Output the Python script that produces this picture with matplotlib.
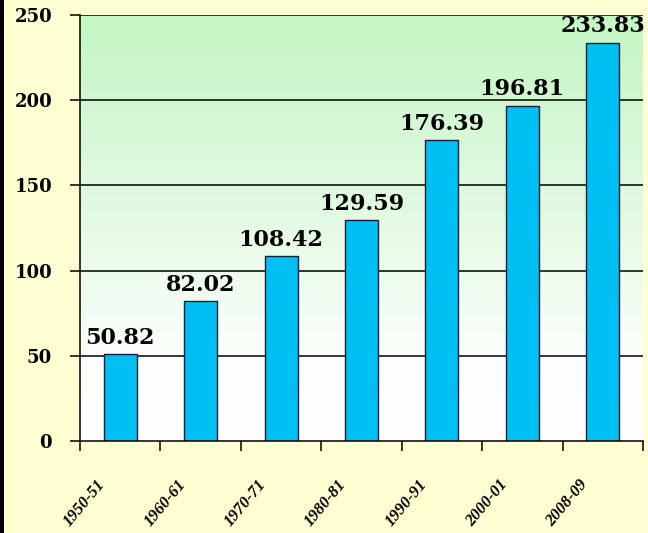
import numpy as np
import matplotlib
matplotlib.use("Agg")
import matplotlib.pyplot as plt
from matplotlib.colors import LinearSegmentedColormap
from matplotlib.patches import Rectangle

# Chart data
years = ["1950-51", "1960-61", "1970-71", "1980-81", "1990-91", "2000-01", "2008-09"]
values = [50.82, 82.02, 108.42, 129.59, 176.39, 196.81, 233.83]
y_ticks = [0, 50, 100, 150, 200, 250]

fig = plt.figure(figsize=(6.48, 5.33), dpi=100)
fig.patch.set_facecolor("#FFFFD2")
# dark strip along the left edge
fig.patches.append(Rectangle((0, 0), 4 / 648, 1, transform=fig.transFigure,
                             facecolor="black", edgecolor="none", zorder=0))

ax = fig.add_axes([80 / 648, 92 / 533, 563 / 648, 426 / 533])
ax.set_xlim(-0.5, len(years) - 0.5)
ax.set_ylim(0, 250)

# plot area background: white at the bottom fading to pale green at the top
grad_cmap = LinearSegmentedColormap.from_list(
    "bg", [(0, "#FFFFFF"), (0.2, "#FBFEFB"), (0.55, "#E2FAE2"), (1, "#C4F6C4")])
grad = np.linspace(0, 1, 256).reshape(-1, 1)
ax.imshow(grad, cmap=grad_cmap, origin="lower", aspect="auto",
          extent=[-0.5, len(years) - 0.5, 0, 250], zorder=0)

x = np.arange(len(years))
ax.bar(x, values, width=0.41, color="#00BFF3", edgecolor="#102030",
       linewidth=1.0, zorder=3)

for xi, v in zip(x, values):
    ax.annotate(f"{v:.2f}", (xi, v), xytext=(0, 4), textcoords="offset points",
                ha="center", va="bottom", fontsize=16, fontweight="bold",
                family="DejaVu Serif", color="black", zorder=4,
                annotation_clip=False)

# horizontal grid lines
for t in y_ticks[1:]:
    ax.axhline(t, color="black", linewidth=1.1, zorder=2)

ax.set_yticks(y_ticks)
ax.set_yticklabels([str(t) for t in y_ticks], fontsize=13, fontweight="bold",
                   family="DejaVu Serif")
ax.tick_params(axis="y", length=7, width=1.1, pad=13, direction="out")

# category boundary ticks on the x axis
ax.set_xticks(np.arange(-0.5, len(years)))
ax.set_xticklabels([])
ax.tick_params(axis="x", length=7, width=1.1, direction="out")

for xi, lab in zip(x, years):
    ax.text(xi - 0.22, -24, lab, rotation=50, rotation_mode="anchor",
            ha="right", va="center", fontsize=12, fontweight="bold",
            style="italic", family="Liberation Serif", color="black")

for side in ["top", "right"]:
    ax.spines[side].set_visible(False)
for side in ["left", "bottom"]:
    ax.spines[side].set_color("black")
    ax.spines[side].set_linewidth(1.1)
    ax.spines[side].set_zorder(5)

fig.savefig("out.png", dpi=100, facecolor=fig.get_facecolor())
